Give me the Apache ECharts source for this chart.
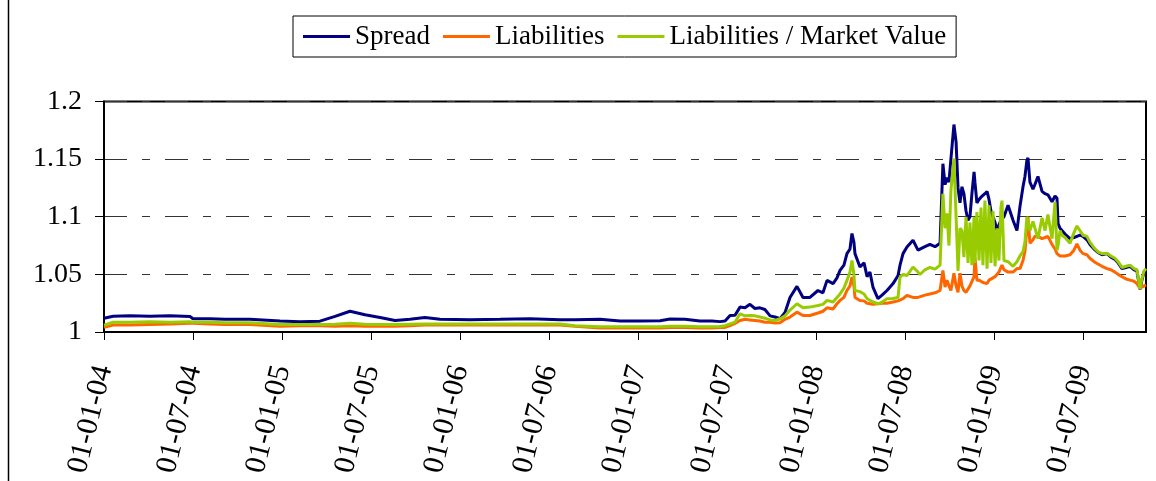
<!DOCTYPE html>
<html>
<head>
<meta charset="utf-8">
<script src="https://cdn.jsdelivr.net/npm/echarts@6/dist/echarts.min.js"></script>
<style>
  html, body { margin: 0; padding: 0; background: #fff; }
  #chart { width: 1156px; height: 481px; }
</style>
</head>
<body>
<div id="chart"></div>
<script>
// x = years since 01-01-2004
var years = [
  0, 0.051, 0.146, 0.258, 0.371, 0.483, 0.500, 0.596, 0.680, 0.820,
  0.989, 1.101, 1.213, 1.298, 1.382, 1.466, 1.551, 1.635, 1.719, 1.803,
  1.888, 2.056, 2.225, 2.393, 2.562, 2.646, 2.787, 2.899, 3.011, 3.124,
  3.180, 3.264, 3.348, 3.416, 3.461,
  3.489, 3.517, 3.545, 3.573, 3.601, 3.629, 3.657, 3.685, 3.713, 3.742,
  3.770, 3.798, 3.826, 3.854, 3.893, 3.927, 3.966, 4.011, 4.039, 4.062,
  4.096, 4.118, 4.135, 4.157, 4.174, 4.191, 4.202, 4.213, 4.219, 4.247,
  4.270, 4.287, 4.303, 4.320, 4.348, 4.371, 4.399, 4.433, 4.461, 4.472,
  4.489, 4.511, 4.545, 4.573, 4.584, 4.612, 4.640, 4.669, 4.697, 4.708,
  4.713, 4.725, 4.736, 4.747, 4.758, 4.775, 4.787, 4.798, 4.809, 4.820,
  4.831, 4.843, 4.854, 4.865, 4.876, 4.888, 4.893, 4.904, 4.916, 4.927,
  4.938, 4.949, 4.961, 4.972, 4.983, 4.994, 5.006, 5.017, 5.028, 5.039,
  5.045, 5.056, 5.079, 5.107, 5.129, 5.146, 5.163, 5.174, 5.185, 5.191,
  5.202,
  5.219, 5.230, 5.247, 5.270, 5.287, 5.303, 5.326, 5.343, 5.354, 5.360,
  5.371, 5.382, 5.399, 5.427, 5.449, 5.466, 5.483, 5.500, 5.522, 5.539,
  5.562, 5.584, 5.607, 5.635, 5.657, 5.680, 5.697, 5.719, 5.742, 5.764,
  5.787, 5.803, 5.820, 5.831, 5.843, 5.854
];

var spread = [
  1.012, 1.0137, 1.014, 1.0137, 1.014, 1.0135, 1.0115, 1.0115, 1.011, 1.011,
  1.0095, 1.009, 1.0094, 1.0135, 1.018, 1.015, 1.0125, 1.010, 1.011, 1.0125,
  1.011, 1.0106, 1.011, 1.0115, 1.0106, 1.0106, 1.011, 1.0096, 1.0096, 1.0097,
  1.0112, 1.011, 1.0095, 1.0095, 1.009,
  1.0095, 1.0143, 1.0145, 1.0216, 1.021, 1.024, 1.0204, 1.021, 1.0195, 1.014,
  1.013, 1.0115, 1.017, 1.030, 1.0396, 1.030, 1.030, 1.036, 1.034, 1.0448,
  1.042, 1.047, 1.0535, 1.058, 1.068, 1.072, 1.0855, 1.078, 1.068, 1.0564,
  1.060, 1.048, 1.052, 1.039, 1.029, 1.032, 1.036, 1.042, 1.049, 1.058,
  1.068, 1.0737, 1.0796, 1.071, 1.071, 1.074, 1.076, 1.074, 1.077, 1.078,
  1.146, 1.128, 1.134, 1.13, 1.150, 1.18, 1.165, 1.125, 1.112, 1.126,
  1.12, 1.105, 1.097, 1.100, 1.12, 1.139, 1.13, 1.112, 1.115, 1.117,
  1.117, 1.12, 1.122, 1.115, 1.105, 1.10, 1.095, 1.088, 1.093, 1.097,
  1.097, 1.10, 1.110, 1.097, 1.088, 1.109, 1.126, 1.135, 1.149, 1.151,
  1.13,
  1.124, 1.128, 1.135, 1.122, 1.12, 1.119, 1.113, 1.118, 1.116, 1.094,
  1.09, 1.088, 1.085, 1.081, 1.082, 1.083, 1.084, 1.083, 1.08, 1.076,
  1.072, 1.069, 1.067, 1.068, 1.065, 1.063, 1.060, 1.055, 1.056, 1.057,
  1.054, 1.053, 1.037, 1.045, 1.052, 1.054
];

var liabilities = [
  1.004, 1.006, 1.006, 1.0065, 1.007, 1.0075, 1.0075, 1.007, 1.0065, 1.0065,
  1.005, 1.0055, 1.0055, 1.005, 1.0055, 1.005, 1.005, 1.005, 1.0055, 1.006,
  1.006, 1.006, 1.006, 1.006, 1.006, 1.005, 1.0035, 1.0035, 1.0035, 1.0035,
  1.004, 1.004, 1.0035, 1.0035, 1.0038,
  1.004, 1.0055, 1.0075, 1.010, 1.011, 1.0105, 1.010, 1.0095, 1.0085, 1.0085,
  1.0078, 1.008, 1.011, 1.013, 1.0172, 1.0143, 1.0143, 1.0165, 1.018, 1.021,
  1.020, 1.0245, 1.0274, 1.030, 1.036, 1.040, 1.0477, 1.040, 1.030, 1.0274,
  1.027, 1.025, 1.0245, 1.024, 1.0245, 1.025, 1.025, 1.026, 1.027, 1.0274,
  1.029, 1.0317, 1.030, 1.030, 1.031, 1.032, 1.033, 1.034, 1.036, 1.036,
  1.0535, 1.039, 1.045, 1.040, 1.036, 1.051, 1.040, 1.0345, 1.051, 1.040,
  1.036, 1.0345, 1.036, 1.040, 1.040, 1.048, 1.065, 1.045, 1.045, 1.044,
  1.043, 1.043, 1.042, 1.045, 1.046, 1.047, 1.048, 1.048, 1.052, 1.056,
  1.058, 1.054, 1.052, 1.052, 1.055, 1.055, 1.062, 1.07, 1.09, 1.1,
  1.077,
  1.08, 1.083, 1.083, 1.081, 1.082, 1.083, 1.076, 1.072, 1.068, 1.067,
  1.066, 1.065, 1.066, 1.067, 1.071, 1.0765, 1.071, 1.068, 1.067, 1.064,
  1.061, 1.059, 1.057, 1.055, 1.054, 1.052, 1.05, 1.048, 1.046, 1.045,
  1.044, 1.042, 1.038, 1.0385, 1.04, 1.041
];

var liabMarketValue = [
  1.006, 1.0085, 1.0085, 1.0088, 1.0085, 1.0088, 1.0085, 1.0085, 1.008, 1.008,
  1.0065, 1.0065, 1.0065, 1.0068, 1.0075, 1.0068, 1.0065, 1.0065, 1.0068, 1.007,
  1.007, 1.007, 1.007, 1.007, 1.007, 1.0055, 1.0045, 1.0045, 1.0045, 1.0045,
  1.005, 1.005, 1.0045, 1.0045, 1.0048,
  1.0055, 1.007, 1.0085, 1.0158, 1.014, 1.0143, 1.014, 1.013, 1.012, 1.0105,
  1.010, 1.0115, 1.014, 1.019, 1.0245, 1.021, 1.0216, 1.023, 1.024, 1.0274,
  1.026, 1.030, 1.033, 1.038, 1.0448, 1.052, 1.062, 1.050, 1.036, 1.035,
  1.033, 1.029, 1.0274, 1.026, 1.0245, 1.026, 1.0288, 1.029, 1.030, 1.0477,
  1.050, 1.049, 1.0564, 1.052, 1.0499, 1.054, 1.056, 1.0545, 1.058, 1.058,
  1.12, 1.09, 1.103, 1.075, 1.123, 1.1506, 1.10, 1.053, 1.09, 1.088,
  1.065, 1.10, 1.06, 1.095, 1.058, 1.10, 1.06, 1.104, 1.062, 1.108,
  1.058, 1.114, 1.055, 1.11, 1.06, 1.105, 1.057, 1.09, 1.062, 1.108,
  1.114, 1.062, 1.061, 1.057, 1.061, 1.066, 1.0698, 1.078, 1.1, 1.1,
  1.088,
  1.096, 1.096, 1.081, 1.099, 1.088, 1.102, 1.081, 1.113, 1.071, 1.075,
  1.088, 1.084, 1.082, 1.077, 1.086, 1.092, 1.088, 1.084, 1.083, 1.078,
  1.073, 1.0696, 1.068, 1.0683, 1.066, 1.064, 1.061, 1.056, 1.057, 1.058,
  1.055, 1.054, 1.0376, 1.046, 1.053, 1.055
];

var tickLabels = [
  '01-01-04', '01-07-04', '01-01-05', '01-07-05', '01-01-06', '01-07-06',
  '01-01-07', '01-07-07', '01-01-08', '01-07-08', '01-01-09', '01-07-09'
];

var seriesNames = ['Spread', 'Liabilities', 'Liabilities / Market Value'];
var seriesColors = ['#000080', '#FF6600', '#99CC00'];

var FONT = '"Liberation Serif", "Times New Roman", serif';

function pairs(vals) {
  return years.map(function (t, i) { return [t, vals[i]]; });
}

var chart = echarts.init(document.getElementById('chart'));

var option = {
  animation: false,
  backgroundColor: '#fff',
  textStyle: { fontFamily: FONT },
  grid: {
    left: 104, top: 101.5, right: 10, bottom: 149,
    show: true, borderColor: '#000', borderWidth: 2, backgroundColor: 'transparent'
  },
  legend: {
    data: seriesNames,
    left: 293, top: 16,
    padding: [7, 10, 7, 10],
    itemGap: 13, itemWidth: 47, itemHeight: 3,
    icon: 'rect',
    borderColor: '#000', borderWidth: 1,
    textStyle: { fontFamily: FONT, fontSize: 27, color: '#000' }
  },
  graphic: [{
    type: 'line',
    shape: { x1: 8.5, y1: 0, x2: 8.5, y2: 481 },
    style: { stroke: '#000', lineWidth: 1.5 }
  }],
  xAxis: {
    type: 'value',
    min: 0, max: 5.854, interval: 0.5,
    axisLine: { lineStyle: { color: '#000', width: 2 } },
    axisTick: { inside: false, length: 8, lineStyle: { color: '#000', width: 1 } },
    splitLine: { show: false },
    axisLabel: {
      rotate: 76,
      margin: 34,
      showMaxLabel: false,
      fontFamily: FONT, fontSize: 30, color: '#000',
      formatter: function (v) {
        var i = Math.round(v / 0.5);
        return Math.abs(v - i * 0.5) < 1e-6 ? (tickLabels[i] || '') : '';
      }
    }
  },
  yAxis: {
    type: 'value',
    min: 1, max: 1.2, interval: 0.05,
    axisLine: { show: true, lineStyle: { color: '#000', width: 2 } },
    axisTick: { show: true, inside: false, length: 9, lineStyle: { color: '#000', width: 1 } },
    splitLine: { show: true, lineStyle: { color: '#333', width: 1, type: [23, 15, 8, 15] } },
    axisLabel: {
      margin: 22,
      fontFamily: FONT, fontSize: 28, color: '#000'
    }
  },
  series: [
    { name: seriesNames[0], type: 'line', data: pairs(spread), showSymbol: false, symbol: 'none',
      color: seriesColors[0], lineStyle: { width: 3, color: seriesColors[0] }, z: 2 },
    { name: seriesNames[1], type: 'line', data: pairs(liabilities), showSymbol: false, symbol: 'none',
      color: seriesColors[1], lineStyle: { width: 3, color: seriesColors[1] }, z: 3 },
    { name: seriesNames[2], type: 'line', data: pairs(liabMarketValue), showSymbol: false, symbol: 'none',
      color: seriesColors[2], lineStyle: { width: 3, color: seriesColors[2] }, z: 4 }
  ]
};

chart.setOption(option);
</script>
</body>
</html>
